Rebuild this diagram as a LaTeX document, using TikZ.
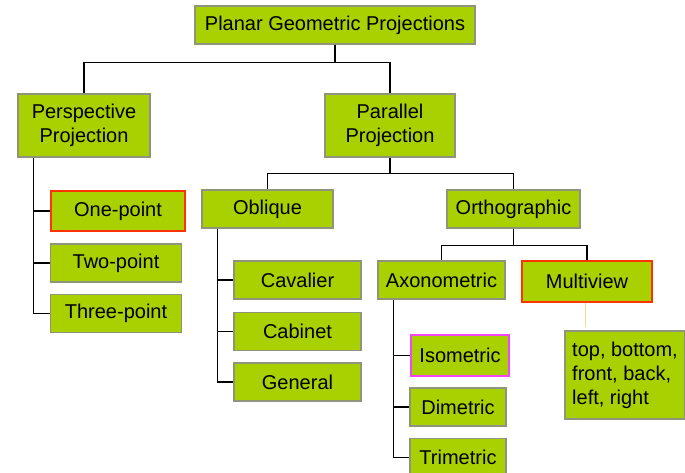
\documentclass[tikz,border=0pt]{standalone}
\usepackage{fontspec}
\setmainfont{Liberation Sans}
\usepackage{tikz}
\usetikzlibrary{positioning}
\definecolor{lime}{RGB}{169, 208, 0}
\definecolor{frame}{RGB}{145, 148, 125}
\definecolor{hot}{RGB}{255, 51, 0}
\definecolor{pink}{RGB}{245, 70, 245}
\definecolor{faint}{RGB}{245, 215, 150}
\tikzstyle{box} = [rectangle, draw=frame, line width=1.5pt, fill=lime, text=black, font=\fontsize{20}{24}\selectfont, inner sep=0pt, minimum height=38pt, align=center]
\tikzstyle{hotbox} = [box, draw=hot, line width=2.5pt, minimum height=40pt]
\tikzstyle{pinkbox} = [box, draw=pink, line width=2.5pt, minimum height=40pt]
\tikzstyle{link} = [draw, line width=1.2pt]

\begin{document}
\begin{tikzpicture}[x=1pt, y=-1pt]
\useasboundingbox (0,0) rectangle (685,473);

% root =============================
\node[box, minimum width=280pt] (planar) at (335,25) {Planar Geometric Projections};
\node[box, minimum width=132pt, minimum height=63pt] (persp) at (84,125.5) {Perspective\\Projection};
\node[box, minimum width=130pt, minimum height=63pt] (para) at (390,125.5) {Parallel\\Projection};

% perspective branch
\node[hotbox, minimum width=134pt] (one) at (118,211) {One-point};
\node[box, minimum width=131pt, below=11pt of one.south west, anchor=north west] (two) {Two-point};
\node[box, minimum width=131pt, below=11pt of two] (three) {Three-point};

% parallel branch
\node[box, minimum width=131pt] (oblique) at (267.5,209) {Oblique};
\node[box, minimum width=133pt] (ortho) at (513.5,209) {Orthographic};

\node[box, minimum width=127pt] (cav) at (297.5,280) {Cavalier};
\node[box, minimum width=127pt, below=12pt of cav] (cab) {Cabinet};
\node[box, minimum width=127pt, below=11pt of cab] (gen) {General};

\node[box, minimum width=127pt] (axo) at (441.5,280) {Axonometric};
\node[hotbox, minimum width=130pt, minimum height=41pt] (multi) at (587,281.5) {Multiview};
\node[box, minimum width=120pt, minimum height=88pt, align=left] (views) at (625,375) {top, bottom,\\front, back,\\left, right};

\node[pinkbox, minimum width=98pt, minimum height=41pt] (iso) at (460,355.5) {Isometric};
\node[box, minimum width=96pt] (dim) at (458,407) {Dimetric};
\node[box, minimum width=96pt, below=11pt of dim] (tri) {Trimetric};

% edges
\draw[link] (planar.south) -- ++(0,18) -| (persp.north);
\draw[link] (planar.south) -- ++(0,18) -| (para.north);
\draw[link] (para.south) -- ++(0,16) -| (oblique.north);
\draw[link] (para.south) -- ++(0,16) -| (ortho.north);
\draw[link] (ortho.south) -- ++(0,17) -| (axo.north);
\draw[link] (ortho.south) -- ++(0,17) -| (multi.north);

\coordinate (pspine) at ([xshift=16pt]persp.south west);
\draw[link] (pspine) |- (three.west);
\draw[link] (pspine |- one.west) -- (one.west);
\draw[link] (pspine |- two.west) -- (two.west);

\coordinate (ospine) at ([xshift=16pt]oblique.south west);
\draw[link] (ospine) |- (gen.west);
\draw[link] (ospine |- cav.west) -- (cav.west);
\draw[link] (ospine |- cab.west) -- (cab.west);

\coordinate (aspine) at ([xshift=16pt]axo.south west);
\draw[link] (aspine) |- (tri.west);
\draw[link] (aspine |- iso.west) -- (iso.west);
\draw[link] (aspine |- dim.west) -- (dim.west);

\draw[draw=faint, line width=1pt, shorten >=3pt] ([xshift=-2pt]multi.south) -- ([xshift=-2pt]multi.south |- views.north);

\end{tikzpicture}
\end{document}
